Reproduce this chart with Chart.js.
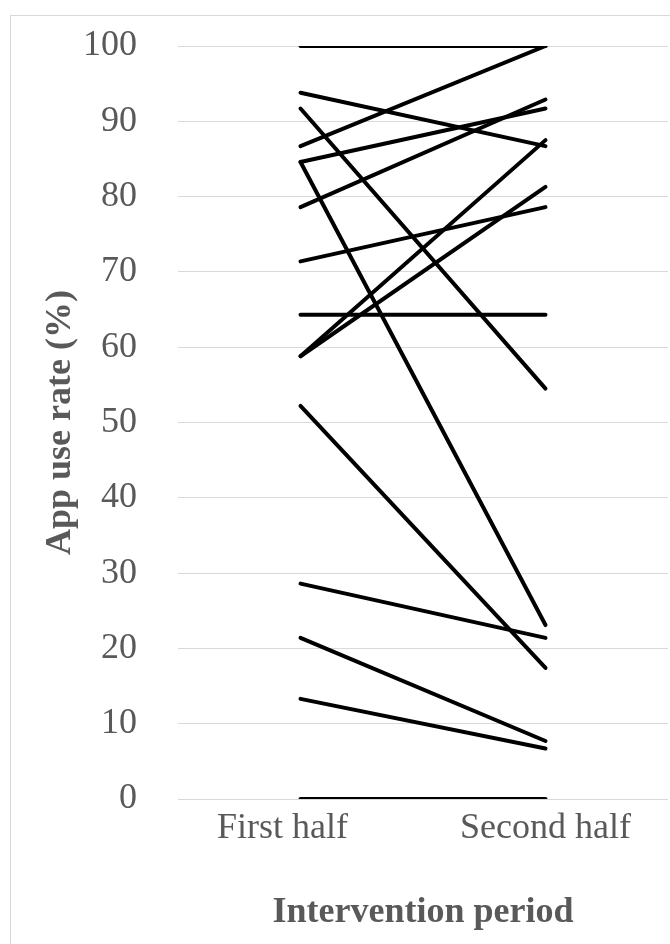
<!DOCTYPE html>
<html>
<head>
<meta charset="utf-8">
<script src="https://cdn.jsdelivr.net/npm/chart.js@4"></script>
<style>
  html, body { margin: 0; padding: 0; background: #fff; }
  #wrap { position: relative; width: 670px; height: 944px; overflow: hidden; }
  #frame { position: absolute; left: 10px; top: 15px; width: 700px; height: 1000px; border: 1px solid #d9d9d9; }
  #chart { position: absolute; left: 0; top: 0; }
</style>
</head>
<body>
<div id="wrap">
  <div id="frame"></div>
  <canvas id="chart" width="670" height="944"></canvas>
</div>
<script>
// periods on the x axis (trailing spaces nudge the first label left, as in the original)
const periods = ['First half    ', 'Second half'];

// app use rate (%) per participant, one entry per line
const firstHalf  = [100, 93.8, 91.7, 86.7, 84.6, 84.6, 78.6, 71.4, 64.3, 58.8, 58.8, 52.2, 28.6, 21.4, 13.3, 0];
const secondHalf = [100, 86.7, 54.5, 100, 91.7, 23.1, 92.9, 78.6, 64.3, 87.5, 81.3, 17.4, 21.4, 7.7, 6.7, 0];

const yTicks = [0, 10, 20, 30, 40, 50, 60, 70, 80, 90, 100];

const grey = '#595959';
const serif = '"Liberation Serif", "Times New Roman", serif';

const datasets = firstHalf.map((v, i) => ({
    label: 'P' + (i + 1),
    data: [v, secondHalf[i]],
    borderColor: '#000',
    backgroundColor: '#000',
    borderWidth: 4,
    borderCapStyle: 'round',
    pointRadius: 0,
    tension: 0
}));

new Chart(document.querySelector('#chart').getContext('2d'), {
    type: 'line',
    data: { labels: periods, datasets: datasets },
    options: {
        responsive: false,
        animation: false,
        layout: { padding: { top: 46, right: 2, bottom: 0, left: 0 } },
        plugins: { legend: { display: false }, tooltip: { enabled: false } },
        scales: {
            x: {
                offset: true,
                grid: { display: false },
                border: { display: false },
                ticks: { color: grey, font: { family: serif, size: 36 }, padding: 0 },
                title: {
                    display: true,
                    text: 'Intervention period',
                    color: grey,
                    font: { family: serif, size: 36, weight: 'bold' },
                    padding: { top: 0, bottom: 10 }
                },
                afterFit: s => { s.height = 145; s.paddingLeft = 0; s.paddingRight = 0; }
            },
            y: {
                min: 0,
                max: 100,
                afterBuildTicks: s => { s.ticks = yTicks.map(v => ({ value: v })); },
                grid: { color: '#d9d9d9', lineWidth: 1, drawTicks: false },
                border: { display: false },
                ticks: { color: grey, font: { family: serif, size: 36 }, padding: 41 },
                title: {
                    display: true,
                    text: 'App use rate (%)',
                    color: grey,
                    font: { family: serif, size: 36, weight: 'bold' },
                    padding: { top: 39, bottom: 0 }
                },
                afterFit: s => { s.width = 178; s.paddingTop = 0; s.paddingBottom = 0; }
            }
        }
    }
});
</script>
</body>
</html>
